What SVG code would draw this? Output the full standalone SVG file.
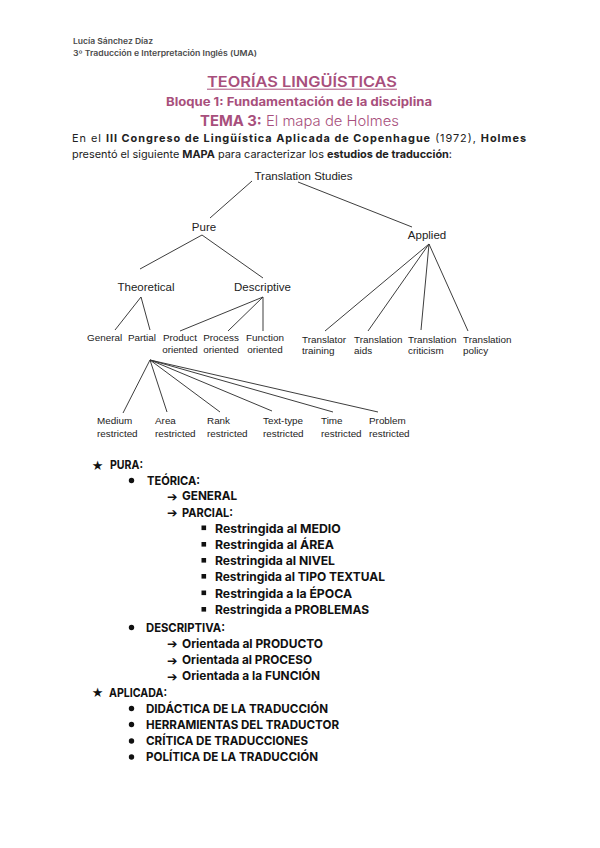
<svg xmlns="http://www.w3.org/2000/svg" width="600" height="848" viewBox="0 0 600 848">
<style>
.hdr{font-family:Inter,"Open Sans",sans-serif;font-size:7.8px;font-weight:600;fill:#4a4a4a}
.pink{fill:#a84f7c;font-family:Inter,"Open Sans",sans-serif}
.para{font-family:Inter,"Open Sans",sans-serif;font-size:10.9px;fill:#222}
.b{font-weight:700}
.tl{font-family:"Liberation Sans",Arial,sans-serif;font-size:11.5px;fill:#222}
.ts{font-family:"Liberation Sans",Arial,sans-serif;font-size:9.9px;fill:#222}
.li{font-family:Inter,"Open Sans",sans-serif;font-size:12.3px;font-weight:700;fill:#111}
.gl{font-family:"DejaVu Sans",sans-serif;fill:#111}
.con line{stroke:#333;stroke-width:0.95}
</style>
<rect width="600" height="848" fill="#fff"/>
<g id="header">
<text class="hdr" x="73" y="44" textLength="80" lengthAdjust="spacingAndGlyphs">Lucía Sánchez Díaz</text>
<text class="hdr" x="73" y="56" textLength="184" lengthAdjust="spacingAndGlyphs">3º Traducción e Interpretación Inglés (UMA)</text>
</g>
<g id="titles">
<text class="pink" x="207" y="86.5" font-size="14.5" font-weight="600" textLength="190" lengthAdjust="spacingAndGlyphs">TEORÍAS LINGÜÍSTICAS</text>
<line x1="207" y1="89.2" x2="397" y2="89.2" stroke="#a84f7c" stroke-width="1"/>
<text class="pink" x="166" y="106" font-size="11.6" font-weight="700" textLength="266" lengthAdjust="spacingAndGlyphs">Bloque 1: Fundamentación de la disciplina</text>
<text class="pink" x="200" y="125.5" font-size="14.5" textLength="199" lengthAdjust="spacingAndGlyphs"><tspan font-weight="700">TEMA 3:</tspan><tspan font-weight="300"> El mapa de Holmes</tspan></text>
</g>
<g id="intro">
<text class="para" x="72" y="141.5" textLength="454">En el <tspan class="b">III Congreso de Lingüística Aplicada de Copenhague</tspan> (1972), <tspan class="b">Holmes</tspan></text>
<text class="para" x="72" y="157.5" textLength="380" lengthAdjust="spacingAndGlyphs">presentó el siguiente <tspan class="b">MAPA</tspan> para caracterizar los <tspan class="b">estudios de traducción</tspan>:</text>
</g>
<g id="connectors" class="con">
<line x1="252" y1="181" x2="210" y2="218"/>
<line x1="298" y1="182" x2="412" y2="227"/>
<line x1="202" y1="235" x2="140" y2="269"/>
<line x1="202" y1="235" x2="263" y2="278"/>
<line x1="429" y1="244" x2="325" y2="331"/>
<line x1="429" y1="244" x2="368" y2="331"/>
<line x1="429" y1="244" x2="421" y2="330"/>
<line x1="429" y1="244" x2="468" y2="331"/>
<line x1="141" y1="297" x2="115" y2="330"/>
<line x1="141" y1="297" x2="150" y2="330"/>
<line x1="263" y1="297" x2="180" y2="331"/>
<line x1="263" y1="297" x2="228" y2="331"/>
<line x1="263" y1="297" x2="263" y2="331"/>
<line x1="150" y1="360" x2="123" y2="413"/>
<line x1="150" y1="360" x2="167" y2="412"/>
<line x1="150" y1="360" x2="220" y2="412"/>
<line x1="150" y1="360" x2="272" y2="411"/>
<line x1="150" y1="360" x2="333" y2="412"/>
<line x1="150" y1="360" x2="378" y2="412"/>
</g>
<g id="n-translation-studies"><text class="tl" x="303.5" y="179.5" text-anchor="middle">Translation Studies</text></g>
<g id="n-pure"><text class="tl" x="204" y="230.5" text-anchor="middle">Pure</text></g>
<g id="n-applied"><text class="tl" x="427" y="238.5" text-anchor="middle">Applied</text></g>
<g id="n-theoretical"><text class="tl" x="146" y="291" text-anchor="middle">Theoretical</text></g>
<g id="n-descriptive"><text class="tl" x="262.5" y="291" text-anchor="middle">Descriptive</text></g>
<g id="n-general"><text class="ts" x="87" y="341">General</text></g>
<g id="n-partial"><text class="ts" x="128" y="341">Partial</text></g>
<g id="n-product"><text class="ts" x="180" y="341" text-anchor="middle">Product</text><text class="ts" x="180" y="352.5" text-anchor="middle">oriented</text></g>
<g id="n-process"><text class="ts" x="221" y="341" text-anchor="middle">Process</text><text class="ts" x="221" y="352.5" text-anchor="middle">oriented</text></g>
<g id="n-function"><text class="ts" x="265" y="341" text-anchor="middle">Function</text><text class="ts" x="265" y="352.5" text-anchor="middle">oriented</text></g>
<g id="n-translator-training"><text class="ts" x="302" y="342.5">Translator</text><text class="ts" x="302" y="354">training</text></g>
<g id="n-translation-aids"><text class="ts" x="354" y="342.5">Translation</text><text class="ts" x="354" y="354">aids</text></g>
<g id="n-translation-criticism"><text class="ts" x="408" y="342.5">Translation</text><text class="ts" x="408" y="354">criticism</text></g>
<g id="n-translation-policy"><text class="ts" x="463" y="342.5">Translation</text><text class="ts" x="463" y="354">policy</text></g>
<g id="n-medium"><text class="ts" x="97" y="424">Medium</text><text class="ts" x="97" y="437">restricted</text></g>
<g id="n-area"><text class="ts" x="155" y="424">Area</text><text class="ts" x="155" y="437">restricted</text></g>
<g id="n-rank"><text class="ts" x="207" y="424">Rank</text><text class="ts" x="207" y="437">restricted</text></g>
<g id="n-text-type"><text class="ts" x="263" y="424">Text-type</text><text class="ts" x="263" y="437">restricted</text></g>
<g id="n-time"><text class="ts" x="321" y="424">Time</text><text class="ts" x="321" y="437">restricted</text></g>
<g id="n-problem"><text class="ts" x="369" y="423.5">Problem</text><text class="ts" x="369" y="436.5">restricted</text></g>
<g id="list">
<text class="gl" x="97.5" y="469.5" font-size="13" text-anchor="middle">★</text>
<text class="li" x="110" y="469" textLength="33" lengthAdjust="spacingAndGlyphs">PURA:</text>
<circle cx="131.5" cy="480.5" r="2.7" fill="#111"/>
<text class="li" x="147" y="484.5" textLength="53" lengthAdjust="spacingAndGlyphs">TEÓRICA:</text>
<text class="gl" x="167" y="500.5" font-size="12.5">➔</text>
<text class="li" x="182" y="500" textLength="55" lengthAdjust="spacingAndGlyphs">GENERAL</text>
<text class="gl" x="167" y="517" font-size="12.5">➔</text>
<text class="li" x="182" y="516.5" textLength="51" lengthAdjust="spacingAndGlyphs">PARCIAL:</text>
<rect x="201.5" y="525.5" width="4.6" height="4.6" fill="#111"/>
<text class="li" x="215" y="532.5">Restringida al MEDIO</text>
<rect x="201.5" y="542" width="4.6" height="4.6" fill="#111"/>
<text class="li" x="215" y="549">Restringida al ÁREA</text>
<rect x="201.5" y="558" width="4.6" height="4.6" fill="#111"/>
<text class="li" x="215" y="565" textLength="120" lengthAdjust="spacingAndGlyphs">Restringida al NIVEL</text>
<rect x="201.5" y="574" width="4.6" height="4.6" fill="#111"/>
<text class="li" x="215" y="581" textLength="170" lengthAdjust="spacingAndGlyphs">Restringida al TIPO TEXTUAL</text>
<rect x="201.5" y="590.5" width="4.6" height="4.6" fill="#111"/>
<text class="li" x="215" y="597.5" textLength="137" lengthAdjust="spacingAndGlyphs">Restringida a la ÉPOCA</text>
<rect x="201.5" y="607" width="4.6" height="4.6" fill="#111"/>
<text class="li" x="215" y="614" textLength="154" lengthAdjust="spacingAndGlyphs">Restringida a PROBLEMAS</text>
<circle cx="131.5" cy="627.5" r="2.7" fill="#111"/>
<text class="li" x="146" y="631.5" textLength="79" lengthAdjust="spacingAndGlyphs">DESCRIPTIVA:</text>
<text class="gl" x="167" y="648" font-size="12.5">➔</text>
<text class="li" x="182" y="647.5" textLength="141" lengthAdjust="spacingAndGlyphs">Orientada al PRODUCTO</text>
<text class="gl" x="167" y="664.5" font-size="12.5">➔</text>
<text class="li" x="182" y="664" textLength="130" lengthAdjust="spacingAndGlyphs">Orientada al PROCESO</text>
<text class="gl" x="167" y="680.5" font-size="12.5">➔</text>
<text class="li" x="182" y="680" textLength="138" lengthAdjust="spacingAndGlyphs">Orientada a la FUNCIÓN</text>
<text class="gl" x="97.5" y="697" font-size="13" text-anchor="middle">★</text>
<text class="li" x="109" y="696.5" textLength="58" lengthAdjust="spacingAndGlyphs">APLICADA:</text>
<circle cx="131.5" cy="708.5" r="2.7" fill="#111"/>
<text class="li" x="146" y="712.5" textLength="182" lengthAdjust="spacingAndGlyphs">DIDÁCTICA DE LA TRADUCCIÓN</text>
<circle cx="131.5" cy="724.5" r="2.7" fill="#111"/>
<text class="li" x="146" y="728.5" textLength="193" lengthAdjust="spacingAndGlyphs">HERRAMIENTAS DEL TRADUCTOR</text>
<circle cx="131.5" cy="741" r="2.7" fill="#111"/>
<text class="li" x="146" y="745" textLength="162" lengthAdjust="spacingAndGlyphs">CRÍTICA DE TRADUCCIONES</text>
<circle cx="131.5" cy="757" r="2.7" fill="#111"/>
<text class="li" x="146" y="761" textLength="172" lengthAdjust="spacingAndGlyphs">POLÍTICA DE LA TRADUCCIÓN</text>
</g>
</svg>
